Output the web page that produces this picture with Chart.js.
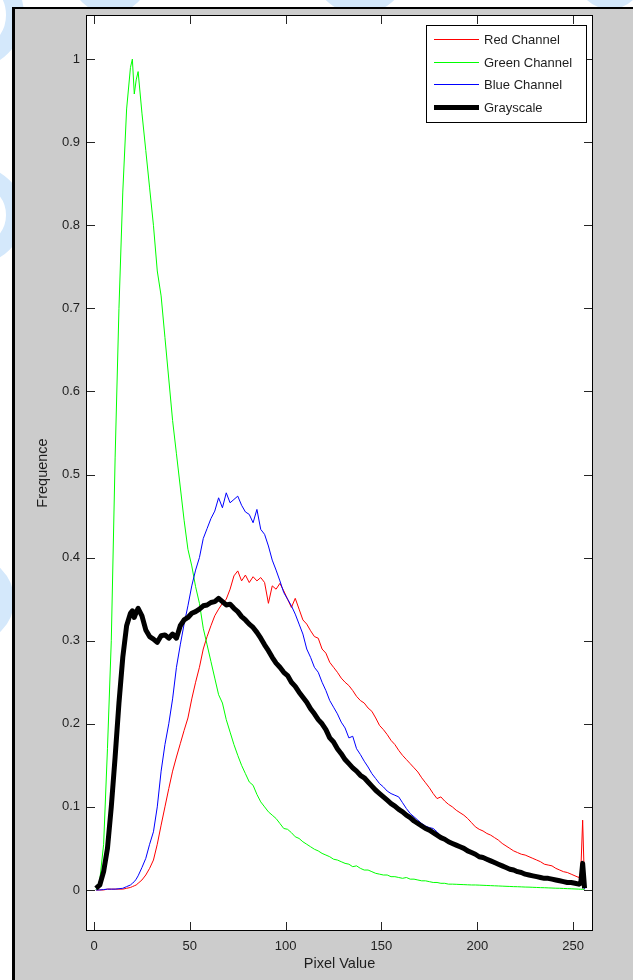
<!DOCTYPE html>
<html>
<head>
<meta charset="utf-8">
<title>Channel histograms</title>
<script src="https://cdn.jsdelivr.net/npm/chart.js@4.4.1/dist/chart.umd.min.js"></script>
<style>
  html, body { margin: 0; padding: 0; background: #fff; }
  canvas { display: block; }
</style>
</head>
<body>
<canvas id="histChart" width="633" height="980"></canvas>
<script>
// pixel values (x) sampled from the histogram
var pixelValues = [
  1, 3, 5, 7, 9, 11, 13, 15, 17, 19,
  20, 21, 22, 23, 25, 27, 29, 31, 33, 35,
  37, 39, 41, 43, 45, 47, 49, 51, 53, 55,
  57, 59, 61, 63, 65, 67, 69, 71, 73, 75,
  77, 79, 81, 83, 85, 87, 89, 91, 93, 95,
  97, 99, 101, 103, 105, 107, 109, 111, 113, 115,
  117, 119, 121, 123, 125, 127, 129, 131, 133, 135,
  137, 139, 141, 143, 145, 147, 149, 151, 153, 155,
  157, 159, 161, 163, 165, 167, 169, 171, 173, 175,
  177, 179, 181, 183, 185, 187, 189, 191, 193, 195,
  197, 199, 201, 203, 205, 207, 209, 211, 213, 215,
  217, 219, 221, 223, 225, 227, 229, 231, 233, 235,
  237, 239, 241, 243, 245, 247, 249, 251, 253, 254,
  255, 256
];

var redChannel = [
  0, 0, 0, 0.001, 0.001, 0.001, 0.001, 0.001, 0.002, 0.003,
  0.004, 0.005, 0.006, 0.008, 0.012, 0.018, 0.026, 0.036, 0.055, 0.078,
  0.10, 0.122, 0.143, 0.16, 0.176, 0.192, 0.207, 0.23, 0.25, 0.268,
  0.29, 0.305, 0.318, 0.33, 0.338, 0.345, 0.35, 0.362, 0.378, 0.384,
  0.372, 0.379, 0.37, 0.377, 0.372, 0.376, 0.37, 0.345, 0.366, 0.362,
  0.369, 0.36, 0.35, 0.34, 0.351, 0.338, 0.325, 0.32, 0.312, 0.305,
  0.303, 0.29, 0.285, 0.274, 0.268, 0.262, 0.255, 0.25, 0.246, 0.24,
  0.233, 0.228, 0.225, 0.219, 0.215, 0.207, 0.198, 0.193, 0.187, 0.18,
  0.175, 0.168, 0.162, 0.157, 0.152, 0.147, 0.142, 0.135, 0.129, 0.123,
  0.116, 0.11, 0.112, 0.107, 0.103, 0.1, 0.096, 0.093, 0.09, 0.086,
  0.081, 0.076, 0.073, 0.071, 0.068, 0.066, 0.063, 0.06, 0.056, 0.053,
  0.05, 0.047, 0.045, 0.043, 0.042, 0.04, 0.038, 0.036, 0.034, 0.031,
  0.03, 0.029, 0.026, 0.024, 0.022, 0.021, 0.019, 0.017, 0.015, 0.02,
  0.084, 0.003
];

var greenChannel = [
  0, 0.012, 0.055, 0.17, 0.30, 0.52, 0.70, 0.84, 0.94, 0.99,
  1.0, 0.958, 0.975, 0.985, 0.935, 0.89, 0.845, 0.80, 0.745, 0.715,
  0.665, 0.615, 0.565, 0.525, 0.485, 0.445, 0.41, 0.39, 0.365, 0.345,
  0.315, 0.295, 0.275, 0.255, 0.235, 0.225, 0.205, 0.19, 0.175, 0.162,
  0.15, 0.14, 0.13, 0.126, 0.115, 0.106, 0.1, 0.094, 0.09, 0.086,
  0.08, 0.074, 0.073, 0.069, 0.064, 0.062, 0.058, 0.055, 0.052, 0.049,
  0.047, 0.044, 0.042, 0.04, 0.037, 0.036, 0.034, 0.032, 0.031, 0.028,
  0.029, 0.026, 0.024, 0.024, 0.022, 0.02, 0.019, 0.018, 0.018, 0.016,
  0.016, 0.015, 0.014, 0.015, 0.013, 0.013, 0.012, 0.011, 0.011, 0.01,
  0.009, 0.009, 0.008, 0.008, 0.007, 0.007, 0.0068, 0.0066, 0.0064, 0.0062,
  0.006, 0.006, 0.0058, 0.0056, 0.0054, 0.0052, 0.005, 0.0048, 0.0046, 0.0044,
  0.0042, 0.004, 0.0039, 0.0037, 0.0035, 0.0034, 0.0032, 0.003, 0.0028, 0.0027,
  0.0025, 0.0023, 0.0021, 0.002, 0.0018, 0.0016, 0.0014, 0.0012, 0.001, 0.0009,
  0.0008, 0.0006
];

var blueChannel = [
  0, 0, 0.0005, 0.001, 0.001, 0.001, 0.0015, 0.002, 0.004, 0.006,
  0.008, 0.01, 0.013, 0.017, 0.027, 0.038, 0.055, 0.07, 0.10, 0.143,
  0.175, 0.20, 0.23, 0.268, 0.295, 0.32, 0.342, 0.366, 0.385, 0.40,
  0.423, 0.435, 0.447, 0.456, 0.472, 0.46, 0.478, 0.466, 0.47, 0.474,
  0.463, 0.455, 0.452, 0.442, 0.458, 0.434, 0.428, 0.414, 0.397, 0.385,
  0.372, 0.358, 0.35, 0.342, 0.332, 0.32, 0.308, 0.29, 0.28, 0.268,
  0.262, 0.25, 0.24, 0.228, 0.22, 0.212, 0.202, 0.195, 0.183, 0.185,
  0.17, 0.163, 0.155, 0.148, 0.14, 0.134, 0.128, 0.124, 0.119, 0.116,
  0.114, 0.112, 0.105, 0.098, 0.092, 0.088, 0.084, 0.08, 0.077, 0.075,
  0.074, 0.07, 0.065, 0.061, 0.058, 0.055, 0.053, 0.051, 0.049, 0.046,
  0.044, 0.041, 0.039, 0.037, 0.035, 0.033, 0.031, 0.03, 0.028, 0.026,
  0.025, 0.023, 0.022, 0.021, 0.019, 0.018, 0.017, 0.016, 0.015, 0.014,
  0.013, 0.012, 0.011, 0.01, 0.009, 0.008, 0.008, 0.007, 0.006, 0.006,
  0.01, 0.001
];

var grayscale = [
  0.002, 0.006, 0.022, 0.05, 0.10, 0.16, 0.225, 0.28, 0.318, 0.333,
  0.336, 0.328, 0.334, 0.339, 0.33, 0.313, 0.305, 0.302, 0.298, 0.306,
  0.307, 0.303, 0.308, 0.303, 0.318, 0.325, 0.328, 0.333, 0.335, 0.338,
  0.342, 0.343, 0.346, 0.347, 0.351, 0.347, 0.343, 0.344, 0.339, 0.335,
  0.329, 0.325, 0.32, 0.316, 0.31, 0.303, 0.295, 0.288, 0.28, 0.273,
  0.268, 0.262, 0.258, 0.25, 0.245, 0.238, 0.232, 0.226, 0.218, 0.212,
  0.205, 0.2, 0.193, 0.183, 0.178, 0.17, 0.164, 0.157, 0.152, 0.147,
  0.143, 0.138, 0.135, 0.13, 0.125, 0.12, 0.116, 0.112, 0.108, 0.104,
  0.101, 0.097, 0.094, 0.09, 0.087, 0.083, 0.08, 0.077, 0.074, 0.072,
  0.069, 0.066, 0.063, 0.061, 0.058, 0.056, 0.054, 0.052, 0.05, 0.047,
  0.045, 0.043, 0.04, 0.039, 0.037, 0.035, 0.033, 0.031, 0.029, 0.027,
  0.025, 0.024, 0.022, 0.021, 0.019, 0.018, 0.017, 0.016, 0.015, 0.014,
  0.014, 0.013, 0.012, 0.011, 0.01, 0.009, 0.009, 0.008, 0.007, 0.008,
  0.032, 0.002
];

var xTicks = [0, 50, 100, 150, 200, 250];
var yTicks = [0, 0.1, 0.2, 0.3, 0.4, 0.5, 0.6, 0.7, 0.8, 0.9, 1];
var yTickLabels = ['0', '0.1', '0.2', '0.3', '0.4', '0.5', '0.6', '0.7', '0.8', '0.9', '1'];

function toPoints(values) {
  return pixelValues.map(function (px, i) { return { x: px, y: values[i] }; });
}

Chart.defaults.font.family = '"Liberation Sans", Arial, sans-serif';
Chart.defaults.color = '#1e1e1e';

// grey figure window, white axes, matlab style ticks and legend
var matlabFrame = {
  id: 'matlabFrame',
  beforeDraw: function (chart) {
    var ctx = chart.ctx, a = chart.chartArea;
    ctx.save();
    ctx.fillStyle = '#ffffff';
    ctx.fillRect(0, 0, chart.width, chart.height);
    // faint blue page decoration outside the figure
    ctx.beginPath();
    ctx.rect(0, 0, 12, chart.height);
    ctx.rect(12, 0, chart.width, 7);
    ctx.clip();
    ctx.strokeStyle = '#d4e8fb';
    ctx.lineWidth = 18;
    [[-30, 15, 45], [-25, 215, 40], [-30, 600, 35], [110, -25, 30], [360, -35, 40], [610, -25, 25]].forEach(function (c) {
      ctx.beginPath();
      ctx.arc(c[0], c[1], c[2], 0, Math.PI * 2);
      ctx.stroke();
    });
    ctx.restore();

    ctx.save();
    ctx.fillStyle = '#cccccc';
    ctx.fillRect(13, 7, chart.width - 13, chart.height - 7);
    ctx.fillStyle = '#000000';
    ctx.fillRect(12, 7, 3, chart.height - 7);
    ctx.fillRect(12, 7, chart.width - 12, 2);
    ctx.fillStyle = '#ffffff';
    ctx.fillRect(a.left, a.top, a.right - a.left, a.bottom - a.top);
    ctx.restore();
  },
  afterDraw: function (chart) {
    var ctx = chart.ctx, a = chart.chartArea;
    var xs = chart.scales.x, ys = chart.scales.y;
    var tl = 9;
    ctx.save();
    ctx.strokeStyle = '#262626';
    ctx.lineWidth = 1;
    ctx.beginPath();
    xTicks.forEach(function (v) {
      var p = Math.round(xs.getPixelForValue(v)) + 0.5;
      ctx.moveTo(p, a.bottom); ctx.lineTo(p, a.bottom - tl);
      ctx.moveTo(p, a.top); ctx.lineTo(p, a.top + tl);
    });
    yTicks.forEach(function (v) {
      var p = Math.round(ys.getPixelForValue(v)) + 0.5;
      ctx.moveTo(a.left, p); ctx.lineTo(a.left + tl, p);
      ctx.moveTo(a.right, p); ctx.lineTo(a.right - tl, p);
    });
    ctx.stroke();
    ctx.strokeStyle = '#000000';
    ctx.strokeRect(a.left + 0.5, a.top + 0.5, a.right - a.left - 1, a.bottom - a.top - 1);

    // legend
    var lx = 426.5, ly = 25.5, lw = 160, lh = 97;
    ctx.fillStyle = '#ffffff';
    ctx.fillRect(lx, ly, lw, lh);
    ctx.strokeStyle = '#000000';
    ctx.lineWidth = 1;
    ctx.strokeRect(lx, ly, lw, lh);
    var rows = [39.5, 62.5, 84.5, 107.5];
    ctx.font = '13px "Liberation Sans", Arial, sans-serif';
    ctx.textBaseline = 'middle';
    chart.data.datasets.forEach(function (ds, i) {
      var y = rows[i];
      ctx.strokeStyle = ds.borderColor;
      ctx.lineWidth = ds.borderWidth;
      ctx.beginPath();
      ctx.moveTo(434, y);
      ctx.lineTo(479, y);
      ctx.stroke();
      ctx.fillStyle = '#1e1e1e';
      ctx.fillText(ds.label, 484, y + 1);
    });
    ctx.restore();
  }
};

var ctx = document.getElementById('histChart').getContext('2d');
var histChart = new Chart(ctx, {
  type: 'line',
  data: {
    datasets: [
      { label: 'Red Channel', data: toPoints(redChannel), borderColor: '#ff0000', borderWidth: 1, order: 4 },
      { label: 'Green Channel', data: toPoints(greenChannel), borderColor: '#00ff00', borderWidth: 1, order: 3 },
      { label: 'Blue Channel', data: toPoints(blueChannel), borderColor: '#0000ff', borderWidth: 1, order: 2 },
      { label: 'Grayscale', data: toPoints(grayscale), borderColor: '#000000', borderWidth: 5, order: 1 }
    ]
  },
  options: {
    responsive: false,
    animation: false,
    devicePixelRatio: 1,
    layout: { padding: { left: 0, right: 40, top: 15, bottom: 0 } },
    elements: {
      point: { radius: 0 },
      line: { tension: 0, fill: false, borderJoinStyle: 'round' }
    },
    plugins: {
      legend: { display: false },
      tooltip: { enabled: false }
    },
    scales: {
      x: {
        type: 'linear',
        min: -4.2,
        max: 260.4,
        grid: { display: false, drawTicks: false },
        border: { display: false },
        afterBuildTicks: function (scale) {
          scale.ticks = xTicks.map(function (v) { return { value: v }; });
        },
        afterFit: function (scale) { scale.height = 49; },
        ticks: {
          padding: 8,
          maxRotation: 0,
          font: { size: 13 },
          callback: function (v) { return String(v); }
        },
        title: {
          display: true,
          text: 'Pixel Value',
          font: { size: 14.5 },
          padding: { top: 0, bottom: 7 }
        }
      },
      y: {
        type: 'linear',
        min: -0.0494,
        max: 1.0531,
        grid: { display: false, drawTicks: false },
        border: { display: false },
        afterBuildTicks: function (scale) {
          scale.ticks = yTicks.map(function (v) { return { value: v }; });
        },
        afterFit: function (scale) { scale.width = 86; },
        ticks: {
          padding: 6,
          font: { size: 13 },
          callback: function (v, i) { return yTickLabels[i]; }
        },
        title: {
          display: true,
          text: 'Frequence',
          font: { size: 14.5 },
          padding: { top: 34, bottom: 0 }
        }
      }
    }
  },
  plugins: [matlabFrame]
});
</script>
</body>
</html>
